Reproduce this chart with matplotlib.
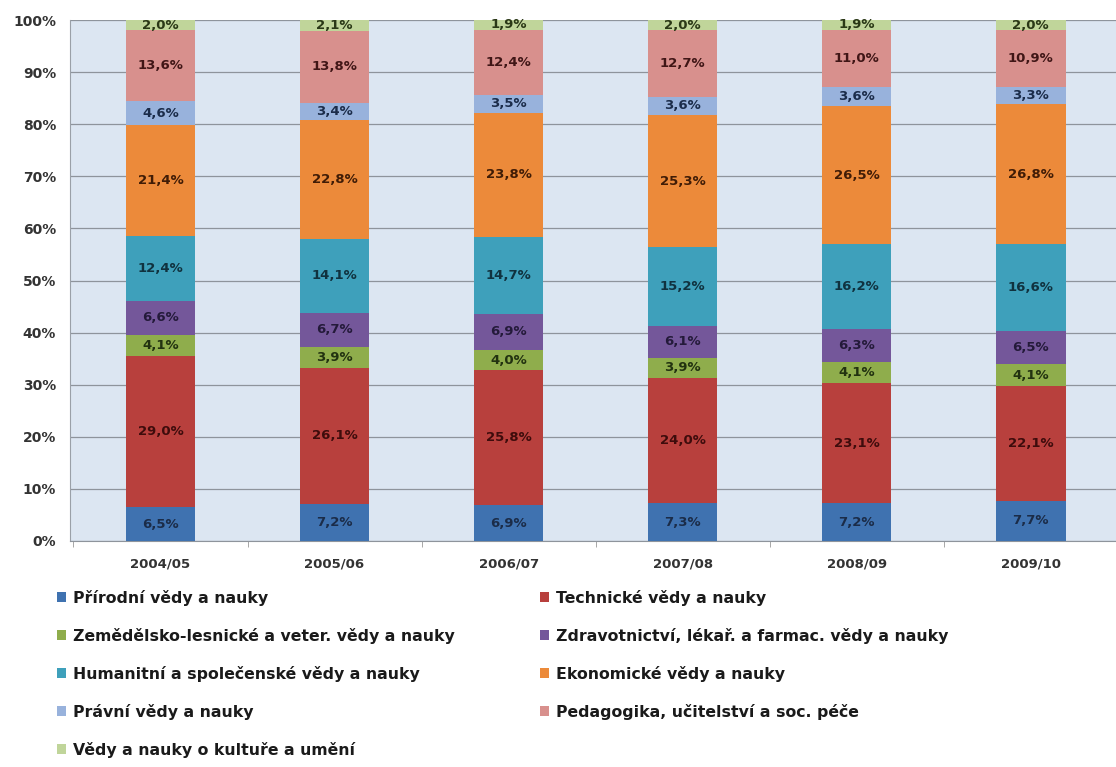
import numpy as np
import matplotlib.pyplot as plt

years = ['2004/05', '2005/06', '2006/07', '2007/08', '2008/09', '2009/10']

names = ['Přírodní vědy a nauky',
         'Technické vědy a nauky',
         'Zemědělsko-lesnické a veter. vědy a nauky',
         'Zdravotnictví, lékař. a farmac. vědy a nauky',
         'Humanitní a společenské vědy a nauky',
         'Ekonomické vědy a nauky',
         'Právní vědy a nauky',
         'Pedagogika, učitelství a soc. péče',
         'Vědy a nauky o kultuře a umění']

prirodni = [6.5, 7.2, 6.9, 7.3, 7.2, 7.7]
technicke = [29.0, 26.1, 25.8, 24.0, 23.1, 22.1]
zemedel = [4.1, 3.9, 4.0, 3.9, 4.1, 4.1]
zdravot = [6.6, 6.7, 6.9, 6.1, 6.3, 6.5]
humanit = [12.4, 14.1, 14.7, 15.2, 16.2, 16.6]
ekonom = [21.4, 22.8, 23.8, 25.3, 26.5, 26.8]
pravni = [4.6, 3.4, 3.5, 3.6, 3.6, 3.3]
pedagog = [13.6, 13.8, 12.4, 12.7, 11.0, 10.9]
kultura = [2.0, 2.1, 1.9, 2.0, 1.9, 2.0]

series = [prirodni, technicke, zemedel, zdravot, humanit, ekonom, pravni, pedagog, kultura]

colors = ['#3f72b0', '#b8403d', '#8fad4c', '#74579a', '#3ea0bb',
          '#ec8a3a', '#98b2dc', '#d8908d', '#c0d59a']
txtcol = ['#1b2c48', '#3e0c0c', '#223210', '#241a3a', '#10323f',
          '#401c06', '#1b2c4a', '#401616', '#2a3816']

plt.rcParams['font.family'] = ['DejaVu Sans']

data = np.array(series)
totals = data.sum(axis=0)
share = data / totals * 100  # 100% stacked like excel

fig = plt.figure(figsize=(11.16, 7.67), dpi=100)
ax = fig.add_axes([70/1116, 1-541/767, 1046/1116, 521/767])
ax.set_facecolor('#dce6f2')

x = np.arange(len(years))
bottom = np.zeros(len(years))
handles = []
for i in range(len(series)):
    b = ax.bar(x, share[i], 0.4, bottom=bottom, color=colors[i], label=names[i], zorder=3)
    handles.append(b)
    for j in range(len(years)):
        ax.text(x[j], bottom[j] + share[i][j]/2, ('%.1f%%' % series[i][j]).replace('.', ','),
                ha='center', va='center', fontsize=9.5, fontweight='bold', color=txtcol[i], zorder=4)
    bottom = bottom + share[i]

ax.set_xlim(-0.52, 5.49)
ax.set_ylim(0, 100)
ax.set_yticks(np.arange(0, 101, 10))
ax.set_yticklabels(['%d%%' % v for v in range(0, 101, 10)], fontsize=10, fontweight='bold', color='#333333')
ax.set_xticks(x)
ax.set_xticklabels(years, fontsize=9.5, fontweight='bold', color='#333333')
ax.set_xticks(np.arange(-0.5, 5.4, 1), minor=True)
ax.tick_params(axis='x', which='major', length=0, pad=12)
ax.tick_params(axis='x', which='minor', length=4, color='#999999')
ax.tick_params(axis='y', length=0, pad=10)
ax.grid(axis='y', color='#8e949c', linewidth=0.9, zorder=0)
for s in ['top', 'right']:
    ax.spines[s].set_visible(False)
ax.spines['left'].set_color('#9aa0a8')
ax.spines['bottom'].set_color('#8e949c')

# legend, two columns placed separately (row order as in the original)
legkw = dict(loc='upper left', frameon=False, prop={'size': 11.3, 'weight': 'bold'},
             handlelength=0.6, handleheight=0.6, handletextpad=0.45, labelspacing=1.4,
             borderpad=0, borderaxespad=0)
left = [0, 2, 4, 6, 8]
right = [1, 3, 5, 7]
leg1 = fig.legend([handles[k] for k in left], [names[k] for k in left],
                  bbox_to_anchor=(57/1116, 1-590/767), **legkw)
leg2 = fig.legend([handles[k] for k in right], [names[k] for k in right],
                  bbox_to_anchor=(540/1116, 1-590/767), **legkw)
for lg in [leg1, leg2]:
    for t in lg.get_texts():
        t.set_color('#1a1a1a')

fig.savefig('out.png', dpi=100)
